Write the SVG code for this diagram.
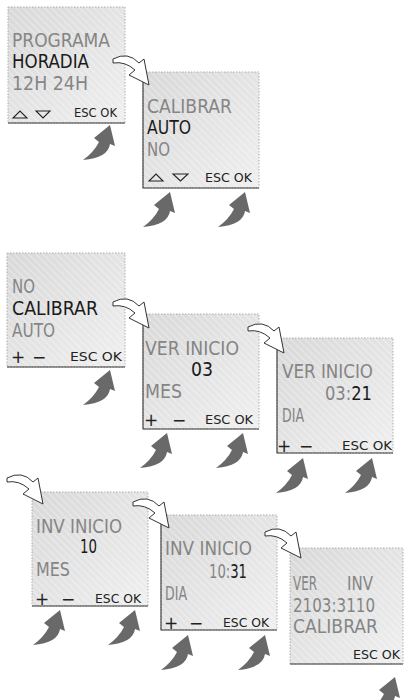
<svg xmlns="http://www.w3.org/2000/svg" width="404" height="700" viewBox="0 0 404 700">
<style>
.scr{fill:url(#bg);stroke:#9a9a9a;stroke-width:0.8;stroke-dasharray:1.5 1.5}
.hat{fill:url(#hatch)}
.edge{stroke:#3a3a3a;stroke-width:1.1;fill:none}
.t{font-family:'Liberation Sans Narrow','DejaVu Sans Condensed','Liberation Sans',sans-serif;font-size:19px}
.s{font-family:'Liberation Sans Narrow','DejaVu Sans Condensed','Liberation Sans',sans-serif;font-size:13px;fill:#222}
.pm{font-family:'DejaVu Sans','Liberation Sans',sans-serif;font-size:17px;fill:#222}
.g{fill:#858585}
.k{fill:#1a1a1a}
.tri{fill:none;stroke:#222;stroke-width:1.1}
.wa{fill:#fff;stroke:#333;stroke-width:1;stroke-linejoin:miter}
.ga{fill:#696969}
</style>
<defs>
<linearGradient id="bg" x1="0" y1="0" x2="1" y2="1">
<stop offset="0" stop-color="#d8d8d8"/>
<stop offset="1" stop-color="#efefef"/>
</linearGradient>
<pattern id="hatch" width="5" height="5" patternUnits="userSpaceOnUse" patternTransform="rotate(-45)">
<rect x="0" y="0" width="1.2" height="5" fill="#fff" opacity="0.35"/>
</pattern>
<path id="warrow" d="M0,0 Q15,-8 26,4 L31,0 L36,26 L16,16 L22,11 Q12,2 0,4 Z"/>
<path id="garrow" d="M0,0 L5,21 L0,19 Q-2,33 -27,35 Q-16,27 -11,17 L-16,13 Z"/>
</defs>
<rect width="404" height="700" fill="#fff"/>

<g id="screen1">
<rect class="scr" x="8" y="7" width="117" height="116"/>
<rect class="hat" x="8" y="7" width="117" height="116"/>
<line class="edge" x1="8" y1="123" x2="125" y2="123"/>
<text class="t g" x="12" y="47" textLength="98" lengthAdjust="spacingAndGlyphs">PROGRAMA</text>
<text class="t k" x="12" y="68" textLength="77" lengthAdjust="spacingAndGlyphs">HORADIA</text>
<text class="t g" x="12" y="90" textLength="76" lengthAdjust="spacingAndGlyphs">12H 24H</text>
<polygon class="tri" points="13,118 27,118 20,111"/>
<polygon class="tri" points="36,111 50,111 43,118"/>
<text class="s" x="74" y="117" textLength="43" lengthAdjust="spacingAndGlyphs">ESC OK</text>
</g>

<g id="screen2">
<rect class="scr" x="143" y="72" width="116" height="116"/>
<rect class="hat" x="143" y="72" width="116" height="116"/>
<polyline class="edge" points="143,72 143,188 259,188"/>
<text class="t g" x="147" y="113" textLength="85" lengthAdjust="spacingAndGlyphs">CALIBRAR</text>
<text class="t k" x="147" y="134" textLength="44" lengthAdjust="spacingAndGlyphs">AUTO</text>
<text class="t g" x="147" y="156" textLength="23" lengthAdjust="spacingAndGlyphs">NO</text>
<polygon class="tri" points="149,181 163,181 156,174"/>
<polygon class="tri" points="173,174 188,174 180.5,181"/>
<text class="s" x="205" y="182" textLength="47" lengthAdjust="spacingAndGlyphs">ESC OK</text>
</g>

<g id="screen3">
<rect class="scr" x="7" y="253" width="118" height="114"/>
<rect class="hat" x="7" y="253" width="118" height="114"/>
<line class="edge" x1="7" y1="367" x2="125" y2="367"/>
<text class="t g" x="12" y="293" textLength="23" lengthAdjust="spacingAndGlyphs">NO</text>
<text class="t k" x="12" y="315" textLength="86" lengthAdjust="spacingAndGlyphs">CALIBRAR</text>
<text class="t g" x="12" y="337" textLength="43" lengthAdjust="spacingAndGlyphs">AUTO</text>
<text class="pm" x="11" y="363">+</text>
<text class="pm" x="32" y="363">−</text>
<text class="s" x="70" y="361" textLength="52" lengthAdjust="spacingAndGlyphs">ESC OK</text>
</g>

<g id="screen4">
<rect class="scr" x="143" y="314" width="116" height="115"/>
<rect class="hat" x="143" y="314" width="116" height="115"/>
<polyline class="edge" points="143,314 143,429 259,429"/>
<text class="t g" x="145" y="355" textLength="94" lengthAdjust="spacingAndGlyphs">VER INICIO</text>
<text class="t k" x="191" y="376" textLength="22" lengthAdjust="spacingAndGlyphs">03</text>
<text class="t g" x="145" y="398" textLength="37" lengthAdjust="spacingAndGlyphs">MES</text>
<text class="pm" x="144" y="426">+</text>
<text class="pm" x="172" y="426">−</text>
<text class="s" x="205" y="424" textLength="48" lengthAdjust="spacingAndGlyphs">ESC OK</text>
</g>

<g id="screen5">
<rect class="scr" x="277" y="338" width="116" height="115"/>
<rect class="hat" x="277" y="338" width="116" height="115"/>
<polyline class="edge" points="277,338 277,453 393,453"/>
<text class="t g" x="282" y="378" textLength="91" lengthAdjust="spacingAndGlyphs">VER INICIO</text>
<text class="t" x="325" y="400" textLength="47" lengthAdjust="spacingAndGlyphs"><tspan class="g">03:</tspan><tspan class="k">21</tspan></text>
<text class="t g" x="282" y="422" textLength="22" lengthAdjust="spacingAndGlyphs">DIA</text>
<text class="pm" x="277" y="452">+</text>
<text class="pm" x="299" y="452">−</text>
<text class="s" x="342" y="450" textLength="50" lengthAdjust="spacingAndGlyphs">ESC OK</text>
</g>

<g id="screen6">
<rect class="scr" x="32" y="492" width="116" height="114"/>
<rect class="hat" x="32" y="492" width="116" height="114"/>
<line class="edge" x1="32" y1="606" x2="148" y2="606"/>
<text class="t g" x="36" y="533" textLength="86" lengthAdjust="spacingAndGlyphs">INV INICIO</text>
<text class="t k" x="80" y="553" textLength="17" lengthAdjust="spacingAndGlyphs">10</text>
<text class="t g" x="36" y="576" textLength="34" lengthAdjust="spacingAndGlyphs">MES</text>
<text class="pm" x="35" y="605">+</text>
<text class="pm" x="61" y="605">−</text>
<text class="s" x="95" y="603" textLength="46" lengthAdjust="spacingAndGlyphs">ESC OK</text>
</g>

<g id="screen7">
<rect class="scr" x="161" y="515" width="116" height="115"/>
<rect class="hat" x="161" y="515" width="116" height="115"/>
<polyline class="edge" points="161,515 161,630 277,630"/>
<text class="t g" x="165" y="555" textLength="87" lengthAdjust="spacingAndGlyphs">INV INICIO</text>
<text class="t" x="209" y="578" textLength="38" lengthAdjust="spacingAndGlyphs"><tspan class="g">10:</tspan><tspan class="k">31</tspan></text>
<text class="t g" x="165" y="600" textLength="22" lengthAdjust="spacingAndGlyphs">DIA</text>
<text class="pm" x="164" y="629">+</text>
<text class="pm" x="189" y="629">−</text>
<text class="s" x="223" y="627" textLength="46" lengthAdjust="spacingAndGlyphs">ESC OK</text>
</g>

<g id="screen8">
<rect class="scr" x="290" y="548" width="113" height="116"/>
<rect class="hat" x="290" y="548" width="113" height="116"/>
<line class="edge" x1="290" y1="664" x2="403" y2="664"/>
<text class="t g" y="590"><tspan x="293" textLength="24" lengthAdjust="spacingAndGlyphs">VER</tspan> <tspan x="347" textLength="26" lengthAdjust="spacingAndGlyphs">INV</tspan></text>
<text class="t g" x="293" y="612" textLength="82" lengthAdjust="spacingAndGlyphs">2103:3110</text>
<text class="t g" x="293" y="633" textLength="85" lengthAdjust="spacingAndGlyphs">CALIBRAR</text>
<text class="s" x="353" y="659" textLength="47" lengthAdjust="spacingAndGlyphs">ESC OK</text>
</g>

<g id="connectors">
<use href="#warrow" class="wa" x="113" y="59"/>
<use href="#warrow" class="wa" x="113" y="302"/>
<use href="#warrow" class="wa" x="248" y="327"/>
<use href="#warrow" class="wa" x="7" y="478"/>
<use href="#warrow" class="wa" x="133" y="502"/>
<use href="#warrow" class="wa" x="265" y="532"/>
<use href="#garrow" class="ga" x="110" y="125"/>
<use href="#garrow" class="ga" x="170" y="192"/>
<use href="#garrow" class="ga" x="245" y="192"/>
<use href="#garrow" class="ga" x="110" y="370"/>
<use href="#garrow" class="ga" x="167" y="433"/>
<use href="#garrow" class="ga" x="243" y="433"/>
<use href="#garrow" class="ga" x="303" y="458"/>
<use href="#garrow" class="ga" x="372" y="458"/>
<use href="#garrow" class="ga" x="60" y="610"/>
<use href="#garrow" class="ga" x="135" y="610"/>
<use href="#garrow" class="ga" x="188" y="635"/>
<use href="#garrow" class="ga" x="265" y="635"/>
<use href="#garrow" class="ga" x="395" y="677"/>
</g>
</svg>
